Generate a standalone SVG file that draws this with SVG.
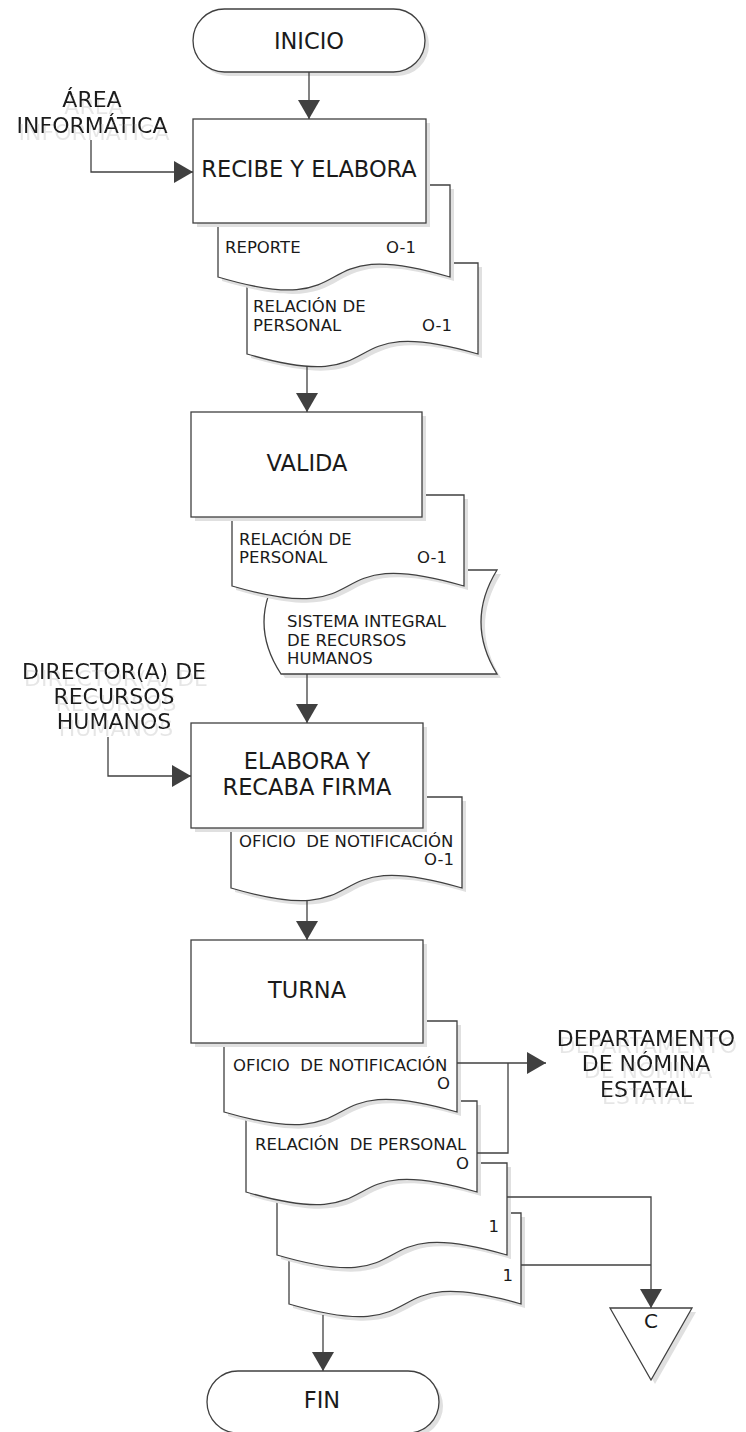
<svg xmlns="http://www.w3.org/2000/svg" width="746" height="1432" viewBox="0 0 746 1432">
<style>
.s{fill:#fff;stroke:#404040;stroke-width:1.3}
.sh{fill:#e0e0e0;stroke:none}
.c{fill:none;stroke:#404040;stroke-width:1.3}
.t{font-family:"DejaVu Sans",Verdana,sans-serif;fill:#1a1a1a}
.big{font-size:22.5px;text-anchor:middle}
.lbl{font-size:22px;text-anchor:middle}
.doc{font-size:16.5px}
.end{text-anchor:end}
</style>
<defs>
<marker id="ah" markerUnits="userSpaceOnUse" markerWidth="19" markerHeight="22" viewBox="0 0 19 22" refX="19" refY="11" orient="auto">
<path d="M0,0 L19,11 L0,22 z" fill="#404040"/>
</marker>
<filter id="ghost" x="-10%" y="-10%" width="130%" height="140%">
<feOffset in="SourceAlpha" dx="2" dy="7" result="o"/>
<feFlood flood-color="#e6e6e6"/>
<feComposite in2="o" operator="in" result="g"/>
<feMerge><feMergeNode in="g"/><feMergeNode in="SourceGraphic"/></feMerge>
</filter>
</defs>

<g id="inicio">
<rect class="sh" x="197" y="13" width="232" height="63" rx="31.5"/>
<rect class="s" x="193" y="9" width="232" height="63" rx="31.5"/>
<text class="t big" x="309" y="48.5">INICIO</text>
</g>

<g id="area-informatica" filter="url(#ghost)">
<text class="t lbl" x="92" y="107">ÁREA</text>
<text class="t lbl" x="92" y="133">INFORMÁTICA</text>
</g>

<g id="doc-relacion-1">
<path class="sh" transform="translate(4,4)" d="M247,263 H478 V354 C327.9,310 397.2,398 247,354 Z"/>
<path class="s" d="M247,263 H478 V354 C327.9,310 397.2,398 247,354 Z"/>
<text class="t doc" x="253" y="312">RELACIÓN DE</text>
<text class="t doc" x="253" y="331">PERSONAL</text>
<text class="t doc end" x="452" y="331">O-1</text>
</g>

<g id="doc-reporte">
<path class="sh" transform="translate(4,4)" d="M218,185 H450 V277 C299.2,232 368.8,322 218,277 Z"/>
<path class="s" d="M218,185 H450 V277 C299.2,232 368.8,322 218,277 Z"/>
<text class="t doc" x="225" y="253">REPORTE</text>
<text class="t doc end" x="416" y="253">O-1</text>
</g>

<g id="recibe-elabora">
<rect class="sh" x="197" y="123" width="233" height="104"/>
<rect class="s" x="193" y="119" width="233" height="104"/>
<text class="t big" x="309" y="177">RECIBE Y ELABORA</text>
</g>

<g id="sistema-integral">
<path class="sh" transform="translate(4,4)" d="M281,570 H497 Q465,622 497,674 H281 Q247,622 281,570 Z"/>
<path class="s" d="M281,570 H497 Q465,622 497,674 H281 Q247,622 281,570 Z"/>
<text class="t doc" x="287" y="627">SISTEMA INTEGRAL</text>
<text class="t doc" x="287" y="646">DE RECURSOS</text>
<text class="t doc" x="287" y="664">HUMANOS</text>
</g>

<g id="doc-relacion-2">
<path class="sh" transform="translate(4,4)" d="M232,495 H464 V586 C313.2,542 382.8,630 232,586 Z"/>
<path class="s" d="M232,495 H464 V586 C313.2,542 382.8,630 232,586 Z"/>
<text class="t doc" x="239" y="545">RELACIÓN DE</text>
<text class="t doc" x="239" y="563">PERSONAL</text>
<text class="t doc end" x="447" y="563">O-1</text>
</g>

<g id="valida">
<rect class="sh" x="195" y="416" width="231" height="105"/>
<rect class="s" x="191" y="412" width="231" height="105"/>
<text class="t big" x="307" y="471">VALIDA</text>
</g>

<g id="director-rh" filter="url(#ghost)">
<text class="t lbl" x="114" y="679">DIRECTOR(A) DE</text>
<text class="t lbl" x="114" y="704">RECURSOS</text>
<text class="t lbl" x="114" y="729">HUMANOS</text>
</g>

<g id="doc-oficio-1">
<path class="sh" transform="translate(4,4)" d="M231,797 H462 V888 C311.9,844 381.2,932 231,888 Z"/>
<path class="s" d="M231,797 H462 V888 C311.9,844 381.2,932 231,888 Z"/>
<text class="t doc" x="239" y="847" xml:space="preserve">OFICIO  DE NOTIFICACIÓN</text>
<text class="t doc end" x="454" y="865">O-1</text>
</g>

<g id="elabora-recaba">
<rect class="sh" x="195" y="727" width="232" height="105"/>
<rect class="s" x="191" y="723" width="232" height="105"/>
<text class="t big" x="307" y="769">ELABORA Y</text>
<text class="t big" x="307" y="795">RECABA FIRMA</text>
</g>

<g id="doc-copia-2">
<path class="sh" transform="translate(4,4)" d="M289,1213 H521 V1304 C370.2,1260 439.8,1348 289,1304 Z"/>
<path class="s" d="M289,1213 H521 V1304 C370.2,1260 439.8,1348 289,1304 Z"/>
<text class="t doc end" x="513" y="1281">1</text>
</g>

<g id="doc-copia-1">
<path class="sh" transform="translate(4,4)" d="M277,1163 H507 V1255 C357.5,1211 426.5,1299 277,1255 Z"/>
<path class="s" d="M277,1163 H507 V1255 C357.5,1211 426.5,1299 277,1255 Z"/>
<text class="t doc end" x="499" y="1232">1</text>
</g>

<g id="doc-relacion-3">
<path class="sh" transform="translate(4,4)" d="M246,1101 H477 V1192 C326.9,1148 396.2,1236 246,1192 Z"/>
<path class="s" d="M246,1101 H477 V1192 C326.9,1148 396.2,1236 246,1192 Z"/>
<text class="t doc" x="255" y="1150" xml:space="preserve">RELACIÓN  DE PERSONAL</text>
<text class="t doc end" x="469" y="1169">O</text>
</g>

<g id="doc-oficio-2">
<path class="sh" transform="translate(4,4)" d="M224,1021 H457 V1112 C305.6,1068 375.5,1156 224,1112 Z"/>
<path class="s" d="M224,1021 H457 V1112 C305.6,1068 375.5,1156 224,1112 Z"/>
<text class="t doc" x="233" y="1071" xml:space="preserve">OFICIO  DE NOTIFICACIÓN</text>
<text class="t doc end" x="450" y="1089">O</text>
</g>

<g id="turna">
<rect class="sh" x="195" y="944" width="232" height="103"/>
<rect class="s" x="191" y="940" width="232" height="103"/>
<text class="t big" x="307" y="998">TURNA</text>
</g>

<g id="depto-nomina" filter="url(#ghost)">
<text class="t lbl" x="646" y="1046">DEPARTAMENTO</text>
<text class="t lbl" x="646" y="1071">DE NÓMINA</text>
<text class="t lbl" x="646" y="1097">ESTATAL</text>
</g>

<g id="conector-c">
<polygon class="sh" points="614,1312 696,1312 655,1384"/>
<polygon class="s" points="610,1308 692,1308 651,1380"/>
<text class="t" x="651" y="1328" font-size="20" text-anchor="middle">C</text>
</g>

<g id="fin">
<rect class="sh" x="211" y="1375" width="232" height="62" rx="31"/>
<rect class="s" x="207" y="1371" width="232" height="62" rx="31"/>
<text class="t big" x="322" y="1408">FIN</text>
</g>

<g id="connectors">
<line class="c" x1="309" y1="72" x2="309" y2="119" marker-end="url(#ah)"/>
<polyline class="c" points="91,140 91,172 193,172" marker-end="url(#ah)"/>
<line class="c" x1="307" y1="366" x2="307" y2="412" marker-end="url(#ah)"/>
<line class="c" x1="307" y1="674" x2="307" y2="723" marker-end="url(#ah)"/>
<polyline class="c" points="108,737 108,776 191,776" marker-end="url(#ah)"/>
<line class="c" x1="307" y1="900" x2="307" y2="940" marker-end="url(#ah)"/>
<line class="c" x1="457" y1="1063" x2="546" y2="1063" marker-end="url(#ah)"/>
<polyline class="c" points="477,1153 508,1153 508,1063"/>
<polyline class="c" points="507,1197 651,1197 651,1308" marker-end="url(#ah)"/>
<polyline class="c" points="521,1265 651,1265"/>
<line class="c" x1="323" y1="1315" x2="323" y2="1371" marker-end="url(#ah)"/>
</g>
</svg>
